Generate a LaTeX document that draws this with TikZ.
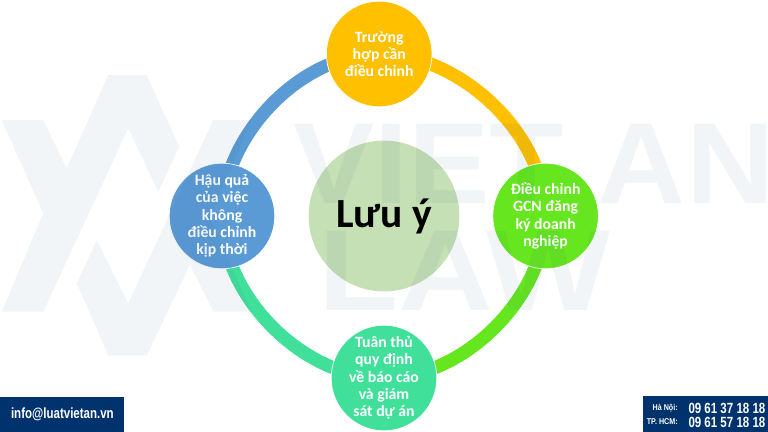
\documentclass[tikz,border=0pt]{standalone}
\usepackage{xcolor}
\usepackage{fontspec}
\setmainfont{Carlito}
\newfontfamily\barfont{Liberation Sans}
\newfontfamily\markfont{Liberation Sans}
\definecolor{colort}{RGB}{255,192,0}
\definecolor{colorr}{RGB}{102,230,30}
\definecolor{colorb}{RGB}{64,224,154}
\definecolor{colorl}{RGB}{91,155,213}
\definecolor{colorc}{RGB}{197,224,180}
\definecolor{colorm}{RGB}{30,80,130}
\definecolor{backg}{RGB}{0,51,110}
\usetikzlibrary{backgrounds}
\tikzstyle{block} = [circle, minimum size=2.64cm, inner sep=-10pt, draw=white, line width=0.5pt, align=center, text=white, font=\fontsize{11.2}{12.3}\selectfont\bfseries]
\tikzstyle{blockT} = [block, fill=colort]
\tikzstyle{blockR} = [block, fill=colorr]
\tikzstyle{blockB} = [block, fill=colorb]
\tikzstyle{blockL} = [block, fill=colorl]
\tikzstyle{ring} = [line width=0.33cm, looseness=0.9]
\tikzstyle{bar} = [fill=backg, inner sep=0pt]
\tikzstyle{bartext} = [text=white, inner sep=0pt, font=\barfont\bfseries]
\tikzstyle{logomark} = [fill=colorm, opacity=0.06]
\tikzstyle{marktext} = [text=colorm, opacity=0.06, inner sep=0pt, font=\markfont\bfseries\fontsize{82}{82}\selectfont]

\begin{document}
\begin{tikzpicture}
    \useasboundingbox (0,0) rectangle (19.2,10.8);

    \node[blockT] (n1) at (9.48,9.45) {Trường\\hợp cần\\điều chỉnh};
    \node[blockR] (n2) at (13.64,5.4) {Điều chỉnh\\GCN đăng\\ký doanh\\nghiệp};
    \node[blockB] (n3) at (9.6,1.35) {Tuân thủ\\quy định\\về báo cáo\\và giám\\sát dự án};
    \node[blockL] (n4) at (5.55,5.4) {Hậu quả\\của việc\\không\\điều chỉnh\\kịp thời};
    \node[circle, minimum size=3.77cm, inner sep=-10pt, fill=colorc, font=\fontsize{29.5}{30}\selectfont\bfseries] (n5) at (9.6,5.4) {Lưu ý};

    \begin{scope}[on background layer]
      \draw[ring, draw=colort, out=0, in=90] (n1.center) to (n2.center);
      \draw[ring, draw=colorr, out=-90, in=0] (n2.center) to (n3.center);
      \draw[ring, draw=colorb, out=180, in=-90] (n3.center) to (n4.center);
      \draw[ring, draw=colorl, out=90, in=180] (n4.center) to (n1.center);
    \end{scope}

    % watermark
    \begin{scope}[scale=0.025]
      \fill[logomark] (1.7,120.3) -- (43.3,218.7) -- (1.7,312) -- (43.3,312) -- (66.7,263.7) -- (108.3,357) -- (146.7,357) -- (179.3,285.3) -- (158.3,240.3) -- (128.3,303.7) -- (43.3,120.3) -- cycle;
      \fill[logomark] (96.7,192) -- (128.3,128.7) -- (213.3,312) -- (251.7,312) -- (210,214.7) -- (251.7,120.3) -- (213.3,120.3) -- (190,167) -- (146.7,76.3) -- (108.3,76.3) -- (76.7,148.7) -- cycle;
    \end{scope}
    \node[marktext, anchor=base west] (m1) at (7.32,5.72) {\scalebox{1.058}[1]{VIET AN}};
    \node[marktext, anchor=base west] (m2) at (7.96,3.03) {\scalebox{1.14}[1]{LAW}};

    % contact bars
    \node[bar, minimum width=3.1cm, minimum height=0.875cm, anchor=south west] (n6) at (0,0) {};
    \node[bartext, font=\barfont\bfseries\fontsize{10.5}{11}\selectfont] (n7) at (1.56,0.44) {\scalebox{.78}[1]{info@luatvietan.vn}};
    \node[bar, minimum width=3.12cm, minimum height=0.905cm, anchor=south east] (n8) at (19.2,0) {};
    \node[bartext, anchor=east, font=\barfont\bfseries\fontsize{6}{7}\selectfont] (n9) at (16.95,0.6) {\scalebox{.85}[1]{Hà Nội:}};
    \node[bartext, anchor=east, font=\barfont\bfseries\fontsize{6}{7}\selectfont] (n10) at (16.95,0.25) {\scalebox{.85}[1]{TP. HCM:}};
    \node[bartext, anchor=east, font=\barfont\bfseries\fontsize{10.5}{11}\selectfont] (n11) at (19.14,0.6) {\scalebox{.78}[1]{09 61 37 18 18}};
    \node[bartext, anchor=east, font=\barfont\bfseries\fontsize{10.5}{11}\selectfont] (n12) at (19.14,0.25) {\scalebox{.78}[1]{09 61 57 18 18}};
\end{tikzpicture}
\end{document}
